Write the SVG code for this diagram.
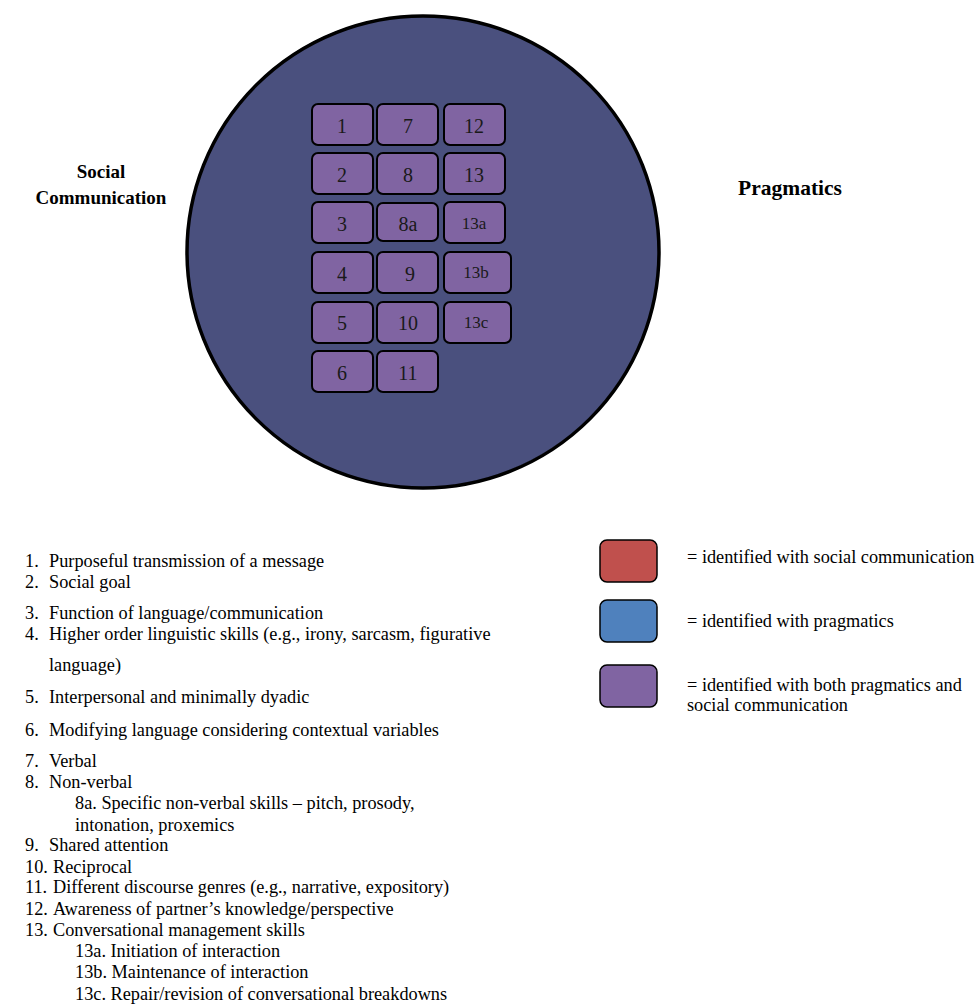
<svg xmlns="http://www.w3.org/2000/svg" width="979" height="1004" viewBox="0 0 979 1004">
<style>
.bx{fill:#8064A2;stroke:#000;stroke-width:2}
.n{font-family:"Liberation Serif","Times New Roman",serif;font-size:20px;fill:#1a1a1a;text-anchor:middle}
.ns{font-family:"Liberation Serif","Times New Roman",serif;font-size:17px;fill:#1a1a1a;text-anchor:middle}
.t{font-family:"Liberation Serif","Times New Roman",serif;font-size:18.3px;fill:#000}
.h{font-family:"Liberation Serif","Times New Roman",serif;font-size:19px;font-weight:bold;fill:#000;text-anchor:middle}
.lg{stroke:#000;stroke-width:1.5}
</style>
<rect width="979" height="1004" fill="#fff"/>
<g id="circle">
<circle cx="422.5" cy="251" r="236" fill="#4A507E"/>
<circle cx="423" cy="252" r="236" fill="none" stroke="#000" stroke-width="3.5"/>
</g>
<g id="labels">
<text class="h" x="101" y="178">Social</text>
<text class="h" x="101" y="204">Communication</text>
<text class="h" x="790" y="195" style="font-size:21.5px">Pragmatics</text>
</g>
<g id="boxes">
<g id="b1"><rect class="bx" x="312" y="104" width="61" height="41" rx="6"/><text class="n" x="342" y="133">1</text></g>
<g id="b2"><rect class="bx" x="312" y="153" width="61" height="41" rx="6"/><text class="n" x="342" y="182">2</text></g>
<g id="b3"><rect class="bx" x="312" y="202" width="61" height="41" rx="6"/><text class="n" x="342" y="231">3</text></g>
<g id="b4"><rect class="bx" x="312" y="252" width="61" height="41" rx="6"/><text class="n" x="342" y="281">4</text></g>
<g id="b5"><rect class="bx" x="312" y="302" width="61" height="41" rx="6"/><text class="n" x="342" y="330">5</text></g>
<g id="b6"><rect class="bx" x="312" y="351" width="61" height="41" rx="6"/><text class="n" x="342" y="380">6</text></g>
<g id="b7"><rect class="bx" x="377" y="104" width="61" height="41" rx="6"/><text class="n" x="408" y="133">7</text></g>
<g id="b8"><rect class="bx" x="377" y="153" width="61" height="41" rx="6"/><text class="n" x="408" y="182">8</text></g>
<g id="b8a"><rect class="bx" x="377" y="203" width="61" height="38" rx="6"/><text class="n" x="408" y="231">8a</text></g>
<g id="b9"><rect class="bx" x="377" y="252" width="61" height="41" rx="6"/><text class="n" x="410" y="281">9</text></g>
<g id="b10"><rect class="bx" x="377" y="302" width="61" height="41" rx="6"/><text class="n" x="408" y="330">10</text></g>
<g id="b11"><rect class="bx" x="377" y="351" width="61" height="41" rx="6"/><text class="n" x="408" y="380">11</text></g>
<g id="b12"><rect class="bx" x="444" y="104" width="61" height="41" rx="6"/><text class="n" x="474" y="133">12</text></g>
<g id="b13"><rect class="bx" x="444" y="153" width="61" height="41" rx="6"/><text class="n" x="474" y="182">13</text></g>
<g id="b13a"><rect class="bx" x="444" y="202" width="61" height="41" rx="6"/><text class="ns" x="474" y="229">13a</text></g>
<g id="b13b"><rect class="bx" x="444" y="252" width="67" height="41" rx="6"/><text class="ns" x="476" y="278">13b</text></g>
<g id="b13c"><rect class="bx" x="444" y="302" width="67" height="41" rx="6"/><text class="ns" x="476" y="328">13c</text></g>
</g>
<g id="list">
<text class="t" x="25" y="567">1.</text><text class="t" x="49" y="567">Purposeful transmission of a message</text>
<text class="t" x="25" y="588">2.</text><text class="t" x="49" y="588">Social goal</text>
<text class="t" x="25" y="619">3.</text><text class="t" x="49" y="619">Function of language/communication</text>
<text class="t" x="25" y="640">4.</text><text class="t" x="49" y="640">Higher order linguistic skills (e.g., irony, sarcasm, figurative</text>
<text class="t" x="49" y="671">language)</text>
<text class="t" x="25" y="703">5.</text><text class="t" x="49" y="703">Interpersonal and minimally dyadic</text>
<text class="t" x="25" y="736">6.</text><text class="t" x="49" y="736">Modifying language considering contextual variables</text>
<text class="t" x="25" y="767">7.</text><text class="t" x="49" y="767">Verbal</text>
<text class="t" x="25" y="788">8.</text><text class="t" x="49" y="788">Non-verbal</text>
<text class="t" x="75" y="809">8a. Specific non-verbal skills – pitch, prosody,</text>
<text class="t" x="75" y="831">intonation, proxemics</text>
<text class="t" x="25" y="851">9.</text><text class="t" x="49" y="851">Shared attention</text>
<text class="t" x="25" y="873">10.</text><text class="t" x="53" y="873">Reciprocal</text>
<text class="t" x="25" y="893">11.</text><text class="t" x="53" y="893">Different discourse genres (e.g., narrative, expository)</text>
<text class="t" x="25" y="915">12.</text><text class="t" x="53" y="915">Awareness of partner’s knowledge/perspective</text>
<text class="t" x="25" y="936">13.</text><text class="t" x="53" y="936">Conversational management skills</text>
<text class="t" x="75" y="957">13a. Initiation of interaction</text>
<text class="t" x="75" y="978">13b. Maintenance of interaction</text>
<text class="t" x="75" y="1000">13c. Repair/revision of conversational breakdowns</text>
</g>
<g id="legend">
<rect class="lg" x="600" y="540" width="57" height="42" rx="7" fill="#C0504D"/>
<text class="t" x="687" y="563">= identified with social communication</text>
<rect class="lg" x="600" y="600" width="57" height="42" rx="7" fill="#4F81BD"/>
<text class="t" x="687" y="627">= identified with pragmatics</text>
<rect class="lg" x="600" y="665" width="57" height="42" rx="7" fill="#8064A2"/>
<text class="t" x="687" y="691">= identified with both pragmatics and</text>
<text class="t" x="687" y="711">social communication</text>
</g>
</svg>
